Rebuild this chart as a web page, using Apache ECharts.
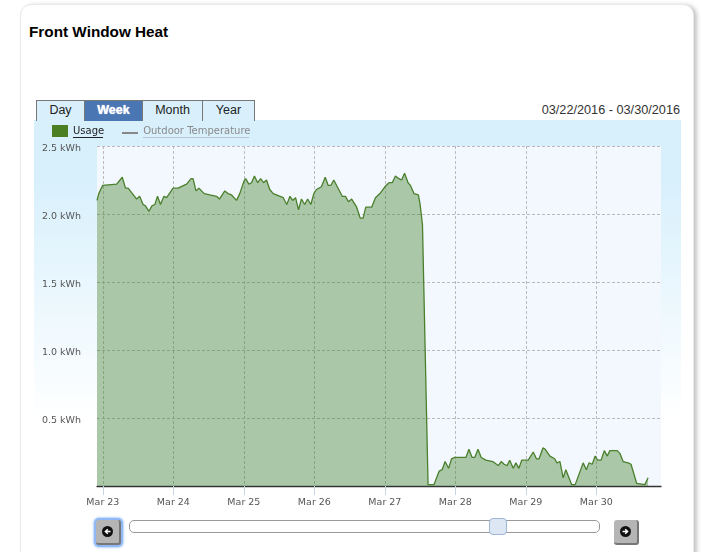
<!DOCTYPE html>
<html lang="en">
<head>
<meta charset="utf-8"/>
<title>Front Window Heat</title>
<script src="https://cdn.jsdelivr.net/npm/echarts@6/dist/echarts.min.js"></script>
<style>
    html, body { margin: 0; padding: 0; background: #fff; overflow: hidden; }
    body { width: 701px; height: 552px; position: relative; font-family: "Liberation Sans", Arial, sans-serif; }
    .card { position: absolute; left: 20px; top: 4px; width: 672px; height: 600px; background: #fff;
        border: 1px solid #e9e9e9; border-radius: 11px; box-shadow: 3px 1px 4px #c4c4c4; }
    .title { position: absolute; left: 29px; top: 23px; font-size: 15.3px; line-height: 18px; font-weight: bold; color: #000; }
    .range { position: absolute; right: 21px; top: 102px; font-size: 12.7px; line-height: 16px; color: #333; }
    .tabs { position: absolute; left: 36px; top: 100px; height: 20px; display: flex; }
    .tab { box-sizing: border-box; height: 21px; line-height: 19px; text-align: center; font-size: 12.5px; color: #222;
        background: #d9f0fc; border: 1px solid #777; border-left: 0; border-bottom: 0; }
    .tab:first-child { border-left: 1px solid #777; }
    .tab.on { background: #4a76b4; color: #fff; font-weight: bold; text-shadow: 0 0 1px #fff; }
    .panel { position: absolute; left: 34px; top: 120px; width: 647px; height: 300px;
        background: linear-gradient(#d8f0fc 0, #d8f0fc 20%, #ffffff 100%); }
    #chart { position: absolute; left: 0; top: 0; width: 701px; height: 552px; }
    .track { position: absolute; box-sizing: border-box; left: 129px; top: 520px; width: 471px; height: 13px;
        background: #fff; border: 1px solid #999; border-radius: 5px; }
    .handle { position: absolute; box-sizing: border-box; left: 489px; top: 518px; width: 18px; height: 17px;
        background: #dce7f3; border: 1px solid #9db7d6; border-radius: 4px; }
    .btn { position: absolute; box-sizing: border-box; top: 520px; width: 25px; height: 25px; background: #b5b5b5;
        border-radius: 3px; border-right: 2px solid #777; border-bottom: 2px solid #777; }
    .btn.left { left: 96px; box-shadow: 0 0 0 2px #8fb8f5, 0 0 2px 3px #bcd5fa; }
    .btn.right { left: 614px; }
    .btn svg { position: absolute; left: 6px; top: 6px; }
</style>
</head>
<body>
<div class="card"></div>
<div class="title">Front Window Heat</div>
<div class="panel"></div>
<div class="tabs">
    <div class="tab" style="width: 49px;">Day</div>
    <div class="tab on" style="width: 58px;">Week</div>
    <div class="tab" style="width: 60px;">Month</div>
    <div class="tab" style="width: 52px;">Year</div>
</div>
<div class="range">03/22/2016 - 03/30/2016</div>
<div id="chart"></div>
<div class="track"></div>
<div class="handle"></div>
<div class="btn left"><svg width="11" height="11" viewBox="0 0 11 11"><circle cx="5.5" cy="5.5" r="5.5" fill="#111"/><path d="M8.5 5.5H4M5.8 3.2L3.4 5.5L5.8 7.8" stroke="#fff" stroke-width="1.5" fill="none"/></svg></div>
<div class="btn right"><svg width="11" height="11" viewBox="0 0 11 11"><circle cx="5.5" cy="5.5" r="5.5" fill="#111"/><path d="M2.5 5.5H7M5.2 3.2L7.6 5.5L5.2 7.8" stroke="#fff" stroke-width="1.5" fill="none"/></svg></div>

<script type="text/javascript">
    // hours counted from Mar 23 00:00 at each vertex of the line
    var hours = [
        -2.0, -1.4, -0.1, 4.7, 6.6, 7.7, 8.6, 11.5, 12.5, 13.7, 14.5, 15.7, 16.7, 17.7, 18.6, 19.6, 20.8, 21.7,
        23.9, 25.6, 28.5, 30.0, 30.7, 31.7, 32.7, 34.5, 36.4, 38.7, 39.7, 41.5, 42.6, 43.8, 45.5, 46.6,
        48.0, 48.6, 49.7, 50.6, 51.6, 52.7, 53.7, 54.7, 55.7, 56.8, 58.0, 61.4, 62.6, 63.7, 64.6, 65.6, 66.6, 67.6, 68.7, 69.7, 70.8,
        71.8, 72.7, 74.4, 75.7, 76.7, 77.6, 78.6, 81.5, 82.6, 83.6, 84.7, 86.4, 87.6, 88.6, 89.5, 91.5, 92.8, 94.3,
        96.0, 97.4, 98.5, 99.6, 100.8, 101.7, 102.7, 103.9, 104.7, 105.9, 107.4, 108.0, 108.8, 110.7, 112.7, 114.5, 115.5, 116.5, 117.7, 118.7,
        119.8, 121.5, 123.6, 124.6, 125.7, 126.6, 127.7, 128.8, 130.4, 132.7, 134.6, 135.6, 136.6, 137.6, 138.5, 139.7, 140.6, 141.6, 142.6,
        144.8, 146.5, 147.6, 148.5, 149.8, 150.6, 152.2, 153.8, 154.6, 155.6, 156.7, 157.6, 159.6, 160.8, 163.5, 164.6, 165.5, 166.6, 167.6,
        168.4, 169.6, 170.7, 171.7, 172.6, 173.7, 175.1, 176.0, 177.1, 178.8, 179.8, 181.7, 184.5, 185.6
    ];
    var usage = [
        2.10, 2.15, 2.21, 2.22, 2.27, 2.19, 2.19, 2.11, 2.13, 2.07, 2.06, 2.02, 2.06, 2.07, 2.13, 2.07, 2.13, 2.12,
        2.19, 2.19, 2.22, 2.26, 2.26, 2.17, 2.19, 2.15, 2.14, 2.13, 2.11, 2.17, 2.15, 2.14, 2.10, 2.15,
        2.24, 2.26, 2.22, 2.23, 2.28, 2.23, 2.26, 2.23, 2.25, 2.18, 2.15, 2.12, 2.07, 2.13, 2.10, 2.12, 2.03, 2.11, 2.07, 2.11, 2.07,
        2.15, 2.18, 2.20, 2.27, 2.21, 2.21, 2.25, 2.13, 2.13, 2.09, 2.11, 2.05, 1.97, 1.97, 2.05, 2.05, 2.12, 2.15,
        2.20, 2.23, 2.23, 2.28, 2.26, 2.25, 2.30, 2.23, 2.21, 2.15, 2.14, 2.07, 1.92, 0.01, 0.01, 0.11, 0.12, 0.18, 0.13, 0.20,
        0.21, 0.21, 0.21, 0.27, 0.21, 0.21, 0.27, 0.21, 0.19, 0.18, 0.15, 0.18, 0.16, 0.15, 0.19, 0.13, 0.17, 0.13, 0.19,
        0.19, 0.25, 0.20, 0.20, 0.28, 0.27, 0.22, 0.20, 0.17, 0.18, 0.06, 0.12, 0.01, 0.01, 0.17, 0.12, 0.17, 0.16, 0.22,
        0.19, 0.19, 0.26, 0.22, 0.26, 0.26, 0.26, 0.24, 0.18, 0.17, 0.16, 0.02, 0.01, 0.06
    ];
    var dayHours = [0, 24, 48, 72, 96, 120, 144, 168];
    var dayLabels = ['Mar 23', 'Mar 24', 'Mar 25', 'Mar 26', 'Mar 27', 'Mar 28', 'Mar 29', 'Mar 30'];

    var lineColor = '#4a7f2c';
    var axisFont = 'DejaVu Sans';
    var chart = echarts.init(document.getElementById('chart'));

    chart.setOption({
        animation: false,
        backgroundColor: 'transparent',
        textStyle: {fontFamily: axisFont},
        grid: {left: 97, right: 40, top: 146, bottom: 66},
        legend: {
            left: 47,
            top: 120,
            itemWidth: 16,
            itemHeight: 12,
            itemGap: 18,
            selectedMode: false,
            textStyle: {fontFamily: axisFont, fontSize: 10, padding: [3, 0, 0, 0]},
            data: [
                {name: 'Usage', icon: 'rect', itemStyle: {color: '#4a7f22', opacity: 1}, textStyle: {color: '#222'}},
                {name: 'Outdoor Temperature', icon: 'none', textStyle: {color: '#8a8a8a'}}
            ]
        },
        xAxis: {
            type: 'value',
            min: -2,
            max: 190,
            axisLine: {onZero: false, lineStyle: {color: '#333', width: 1.3}},
            axisTick: {show: true, length: 9, customValues: dayHours, lineStyle: {color: '#c6d4e4'}},
            axisLabel: {
                customValues: dayHours,
                margin: 12,
                fontSize: 9.5,
                color: '#555',
                formatter: function (v) { return dayLabels[dayHours.indexOf(v)]; }
            },
            splitLine: {show: true, lineStyle: {type: [3, 2], color: '#bbb', width: 1}}
        },
        yAxis: {
            type: 'value',
            min: 0,
            max: 2.5,
            interval: 0.5,
            axisLine: {show: false},
            axisTick: {show: false},
            axisLabel: {
                margin: 16,
                fontSize: 9.5,
                color: '#555',
                verticalAlign: 'top',
                lineHeight: 6,
                formatter: function (v) { return v === 0 ? '' : v.toFixed(1) + ' kWh'; }
            },
            splitLine: {show: true, lineStyle: {type: [3, 2], color: '#bbb', width: 1}}
        },
        graphic: [
            // plot background
            {type: 'rect', z: -1, shape: {x: 97, y: 146, width: 564, height: 340}, style: {fill: '#f3f8fe'}},
            // legend key for the temperature line and the legend text underlines
            {type: 'rect', shape: {x: 122, y: 132, width: 16, height: 2}, style: {fill: '#888'}},
            {type: 'rect', shape: {x: 73, y: 137, width: 30, height: 1}, style: {fill: '#222'}},
            {type: 'rect', shape: {x: 143, y: 137, width: 106, height: 1}, style: {fill: '#b9c8d4'}}
        ],
        series: [
            {
                name: 'Usage',
                type: 'line',
                symbol: 'none',
                color: lineColor,
                lineStyle: {color: lineColor, width: 1.3},
                areaStyle: {color: '#3c7f28', opacity: 0.4},
                data: hours.map(function (h, i) { return [h, usage[i]]; })
            },
            {
                name: 'Outdoor Temperature',
                type: 'line',
                symbol: 'none',
                color: '#888',
                lineStyle: {color: '#888', width: 2},
                data: []
            }
        ]
    });
</script>
</body>
</html>
